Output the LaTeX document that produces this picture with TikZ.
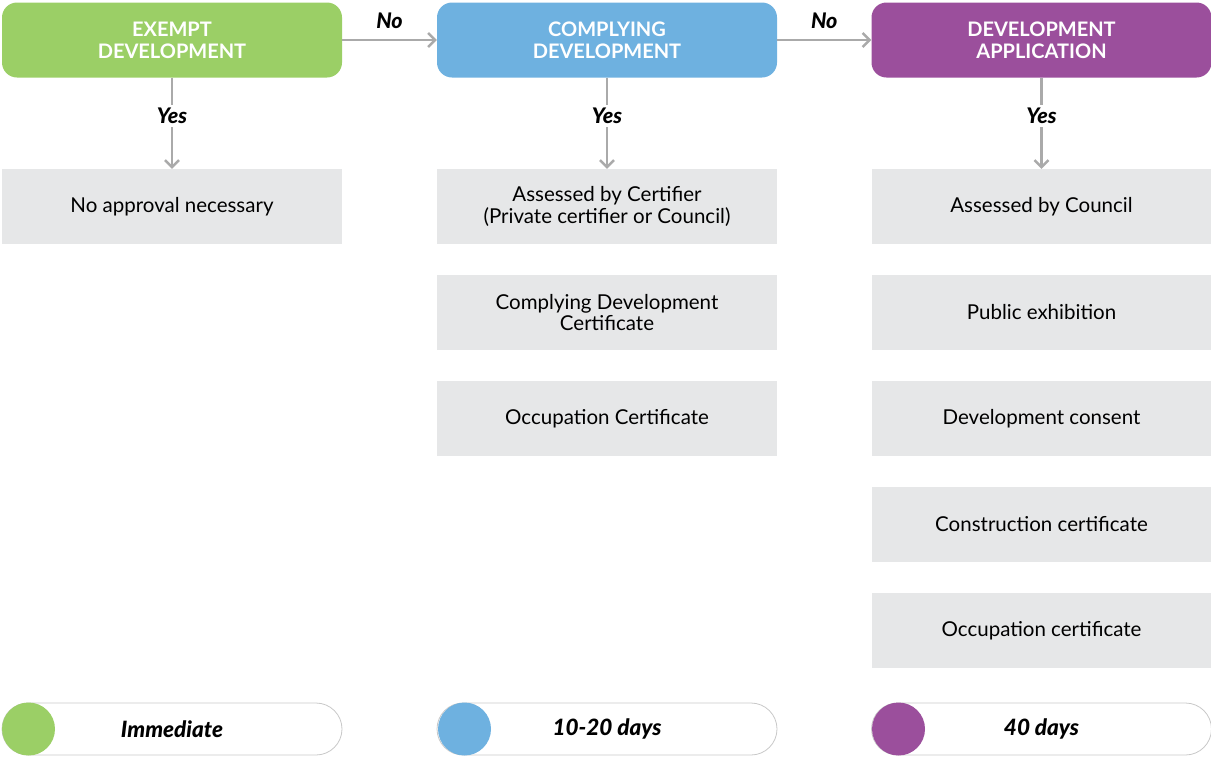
\documentclass[tikz,border=0pt]{standalone}
\usepackage{fontspec}
\setmainfont{Lato}
\newfontfamily\heavy{Lato Black}
\usetikzlibrary{arrows.meta}
\definecolor{cgreen}{HTML}{9BCF66}
\definecolor{cblue}{HTML}{6EB1E0}
\definecolor{cpurple}{HTML}{9B4F9C}
\definecolor{cgrey}{HTML}{E6E7E8}
\definecolor{carrow}{HTML}{AAAAAA}
\definecolor{cpill}{HTML}{C8C8C8}
\tikzset{
  head/.style={rounded corners=15pt, minimum width=340pt, minimum height=75pt, inner sep=0pt,
    text=white, align=center, font=\fontsize{20}{22}\selectfont\bfseries},
  stepbox/.style={fill=cgrey, minimum width=340pt, minimum height=75pt, inner sep=0pt,
    align=center, font=\fontsize{20.5}{21.5}\selectfont},
  pill/.style={draw=cpill, line width=0.8pt, rounded corners=26pt, minimum width=340pt, minimum height=52pt, inner sep=0pt,
    font=\fontsize{22.5}{23}\selectfont\heavy\itshape},
  dot/.style={circle, minimum size=53pt, inner sep=0pt},
  lbl/.style={font=\fontsize{21.5}{23}\selectfont\heavy\itshape},
  conn/.style={draw=carrow, line width=2.5pt, -{Straight Barb[length=7pt,width=14pt,line width=2.5pt]}},
  plain/.style={draw=carrow, line width=2.5pt}
}
\begin{document}
\begin{tikzpicture}[x=1pt,y=-1pt]
\useasboundingbox (0,0) rectangle (1211,756);
% headers
\node[head, fill=cgreen] (h1) at (172,40) {EXEMPT\\DEVELOPMENT};
\node[head, fill=cblue] (h2) at (607,40) {COMPLYING\\DEVELOPMENT};
\node[head, fill=cpurple] (h3) at (1041.5,40) {DEVELOPMENT\\APPLICATION};
% No arrows
\draw[conn] (h1.east) -- (h2.west) node[midway, lbl, above=7pt] (no1) {No};
\draw[conn] (h2.east) -- (h3.west) node[midway, lbl, above=7pt] (no2) {No};
% step boxes
\node[stepbox] (a1) at (172,206.5) {No approval necessary};
\node[stepbox] (b1) at (607,206.5) {Assessed by Certifier\\(Private certifier or Council)};
\node[stepbox] (b2) at (607,312.5) {Complying Development\\Certificate};
\node[stepbox] (b3) at (607,418.5) {Occupation Certificate};
\node[stepbox] (c1) at (1041.5,206.5) {Assessed by Council};
\node[stepbox] (c2) at (1041.5,312.5) {Public exhibition};
\node[stepbox] (c3) at (1041.5,418.5) {Development consent};
\node[stepbox] (c4) at (1041.5,524.5) {Construction certificate};
\node[stepbox] (c5) at (1041.5,630.5) {Occupation certificate};
% Yes labels and arrows
\foreach \h/\s/\x in {h1/a1/172, h2/b1/607, h3/c1/1041.5}{
  \node[lbl] (y\h) at (\x,116) {Yes};
  \draw[plain] (\h.south) -- (y\h.north);
  \draw[conn] (y\h.south) -- (\s.north);
}
% pills
\node[pill] (p1) at (172,729) {Immediate};
\node[pill] (p2) at (607,729) {10-20 days};
\node[pill] (p3) at (1041.5,729) {40 days};
\node[dot, fill=cgreen] (d1) at (28.5,729) {};
\node[dot, fill=cblue] (d2) at (464.5,729) {};
\node[dot, fill=cpurple] (d3) at (898.5,729) {};
\end{tikzpicture}
\end{document}
